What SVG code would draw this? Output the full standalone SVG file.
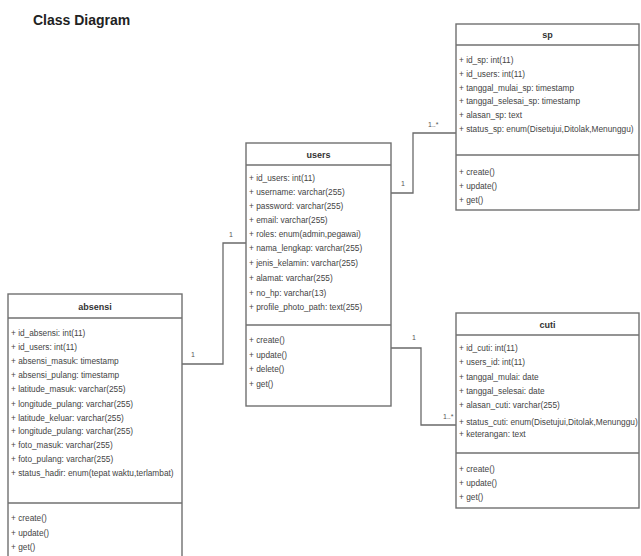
<svg xmlns="http://www.w3.org/2000/svg" width="641" height="556" viewBox="0 0 641 556">
  <style>
    .box { fill: #ffffff; stroke: #707070; stroke-width: 1.4; }
    .sep { stroke: #707070; stroke-width: 1.4; }
    .head { font-family: "Liberation Sans", Arial, sans-serif; font-size: 9px; font-weight: bold; fill: #333333; text-anchor: middle; }
    .attr { font-family: "Liberation Sans", Arial, sans-serif; font-size: 8.3px; fill: #444444; }
    .wire { fill: none; stroke: #6a6a6a; stroke-width: 1.3; }
    .mult { font-family: "Liberation Sans", Arial, sans-serif; font-size: 7px; fill: #555555; }
    .title { font-family: "Liberation Sans", Arial, sans-serif; font-size: 14px; font-weight: bold; fill: #222222; }
  </style>
  <rect width="641" height="556" fill="#ffffff"/>
  <text class="title" x="33" y="25">Class Diagram</text>

  <!-- associations -->
  <g id="connectors">
    <polyline class="wire" points="182,364 223,364 223,243 246,243"/>
    <polyline class="wire" points="391,193 413,193 413,133 456,133"/>
    <polyline class="wire" points="391,348 421,348 421,425 456,425"/>
    <text class="mult" x="191" y="357">1</text>
    <text class="mult" x="229" y="237">1</text>
    <text class="mult" x="401" y="186">1</text>
    <text class="mult" x="428" y="127">1..*</text>
    <text class="mult" x="412" y="340">1</text>
    <text class="mult" x="443" y="419">1..*</text>
  </g>

  <!-- users -->
  <g id="users">
    <rect class="box" x="246" y="143" width="145" height="263"/>
    <line class="sep" x1="246" y1="165" x2="391" y2="165"/>
    <line class="sep" x1="246" y1="325" x2="391" y2="325"/>
    <text class="head" x="318.5" y="158">users</text>
    <text class="attr" x="249" y="181">+ id_users: int(11)</text>
    <text class="attr" x="249" y="195">+ username: varchar(255)</text>
    <text class="attr" x="249" y="209">+ password: varchar(255)</text>
    <text class="attr" x="249" y="223">+ email: varchar(255)</text>
    <text class="attr" x="249" y="237">+ roles: enum(admin,pegawai)</text>
    <text class="attr" x="249" y="251">+ nama_lengkap: varchar(255)</text>
    <text class="attr" x="249" y="266">+ jenis_kelamin: varchar(255)</text>
    <text class="attr" x="249" y="281">+ alamat: varchar(255)</text>
    <text class="attr" x="249" y="296">+ no_hp: varchar(13)</text>
    <text class="attr" x="249" y="310">+ profile_photo_path: text(255)</text>
    <text class="attr" x="249" y="343">+ create()</text>
    <text class="attr" x="249" y="358">+ update()</text>
    <text class="attr" x="249" y="372">+ delete()</text>
    <text class="attr" x="249" y="387">+ get()</text>
  </g>

  <!-- sp -->
  <g id="sp">
    <rect class="box" x="456" y="24" width="183" height="186"/>
    <line class="sep" x1="456" y1="45" x2="639" y2="45"/>
    <line class="sep" x1="456" y1="155" x2="639" y2="155"/>
    <text class="head" x="547.5" y="38">sp</text>
    <text class="attr" x="459" y="63">+ id_sp: int(11)</text>
    <text class="attr" x="459" y="77">+ id_users: int(11)</text>
    <text class="attr" x="459" y="91">+ tanggal_mulai_sp: timestamp</text>
    <text class="attr" x="459" y="104">+ tanggal_selesai_sp: timestamp</text>
    <text class="attr" x="459" y="118">+ alasan_sp: text</text>
    <text class="attr" x="459" y="132">+ status_sp: enum(Disetujui,Ditolak,Menunggu)</text>
    <text class="attr" x="459" y="175">+ create()</text>
    <text class="attr" x="459" y="189">+ update()</text>
    <text class="attr" x="459" y="203">+ get()</text>
  </g>

  <!-- cuti -->
  <g id="cuti">
    <rect class="box" x="456" y="313" width="183" height="195"/>
    <line class="sep" x1="456" y1="335" x2="639" y2="335"/>
    <line class="sep" x1="456" y1="453" x2="639" y2="453"/>
    <text class="head" x="547.5" y="328">cuti</text>
    <text class="attr" x="459" y="351">+ id_cuti: int(11)</text>
    <text class="attr" x="459" y="365">+ users_id: int(11)</text>
    <text class="attr" x="459" y="380">+ tanggal_mulai: date</text>
    <text class="attr" x="459" y="394">+ tanggal_selesai: date</text>
    <text class="attr" x="459" y="408">+ alasan_cuti: varchar(255)</text>
    <text class="attr" x="459" y="425">+ status_cuti: enum(Disetujui,Ditolak,Menunggu)</text>
    <text class="attr" x="459" y="437">+ keterangan: text</text>
    <text class="attr" x="459" y="472">+ create()</text>
    <text class="attr" x="459" y="486">+ update()</text>
    <text class="attr" x="459" y="500">+ get()</text>
  </g>

  <!-- absensi -->
  <g id="absensi">
    <rect class="box" x="8" y="294" width="174" height="270"/>
    <line class="sep" x1="8" y1="318" x2="182" y2="318"/>
    <line class="sep" x1="8" y1="503" x2="182" y2="503"/>
    <text class="head" x="95" y="310">absensi</text>
    <text class="attr" x="11" y="336">+ id_absensi: int(11)</text>
    <text class="attr" x="11" y="350">+ id_users: int(11)</text>
    <text class="attr" x="11" y="364">+ absensi_masuk: timestamp</text>
    <text class="attr" x="11" y="378">+ absensi_pulang: timestamp</text>
    <text class="attr" x="11" y="392">+ latitude_masuk: varchar(255)</text>
    <text class="attr" x="11" y="407">+ longitude_pulang: varchar(255)</text>
    <text class="attr" x="11" y="421">+ latitude_keluar: varchar(255)</text>
    <text class="attr" x="11" y="434">+ longitude_pulang: varchar(255)</text>
    <text class="attr" x="11" y="448">+ foto_masuk: varchar(255)</text>
    <text class="attr" x="11" y="462">+ foto_pulang: varchar(255)</text>
    <text class="attr" x="11" y="476">+ status_hadir: enum(tepat waktu,terlambat)</text>
    <text class="attr" x="11" y="521">+ create()</text>
    <text class="attr" x="11" y="536">+ update()</text>
    <text class="attr" x="11" y="550">+ get()</text>
  </g>
</svg>
